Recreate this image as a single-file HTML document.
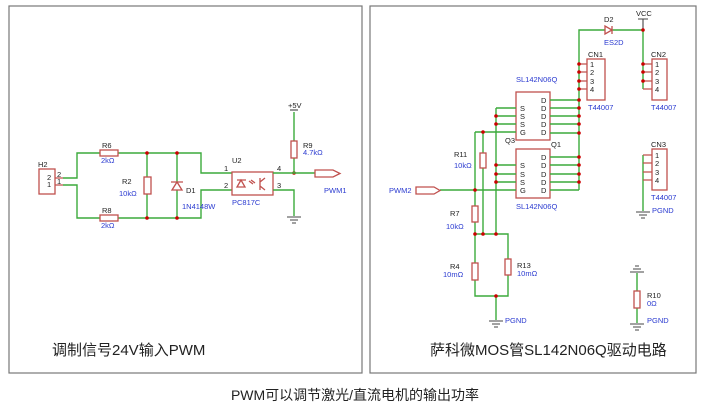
<!DOCTYPE html>
<html><head><meta charset="utf-8"><style>
html,body{margin:0;padding:0;background:#fff;}
svg{display:block;}
.w{stroke:#3caa3c;stroke-width:1.4;fill:none}
.c{stroke:#c0504d;stroke-width:1.3;fill:none}
.r{stroke:#c0504d;stroke-width:1.3;fill:#fff}
.g{stroke:#444;stroke-width:1.1;fill:none}
.t{font-family:"Liberation Sans",sans-serif;font-size:7.5px;fill:#222}
.b{font-family:"Liberation Sans",sans-serif;font-size:7.5px;fill:#2a3ad0}
.big{font-family:"Liberation Sans","Noto Sans CJK SC",sans-serif;font-size:15px;fill:#222}
.cap{font-family:"Liberation Sans","Noto Sans CJK SC",sans-serif;font-size:14px;fill:#222}
</style></head><body>
<svg width="710" height="415" viewBox="0 0 710 415" xmlns="http://www.w3.org/2000/svg">
<rect x="9" y="6" width="353" height="367" fill="none" stroke="#777" stroke-width="1.2"/>
<rect x="370" y="6" width="326" height="367" fill="none" stroke="#777" stroke-width="1.2"/>
<text class="big" x="52" y="355">调制信号24V输入PWM</text>
<text class="big" x="430" y="355">萨科微MOS管SL142N06Q驱动电路</text>
<text class="cap" x="355" y="400" text-anchor="middle">PWM可以调节激光/直流电机的输出功率</text>

<!-- LEFT -->
<rect class="r" x="39" y="169" width="16" height="25"/>
<text class="t" x="38" y="167">H2</text>
<text class="t" x="47" y="180">2</text><text class="t" x="47" y="187">1</text>
<text class="t" x="57" y="177">2</text><text class="t" x="57" y="184">1</text>
<path class="c" d="M55 178H63M55 185H63"/>
<path class="w" d="M63 178H77V153H100M118 153H201V173H232M63 185H77V218H100M118 218H201V190H232"/>
<rect class="r" x="100" y="150" width="18" height="6"/>
<rect class="r" x="100" y="215" width="18" height="6"/>
<text class="t" x="102" y="148">R6</text><text class="b" x="101" y="163">2kΩ</text>
<text class="t" x="102" y="213">R8</text><text class="b" x="101" y="228">2kΩ</text>
<path class="w" d="M147 153V177M147 194V218M177 153V182M177 190V218"/>
<rect class="r" x="144" y="177" width="7" height="17"/>
<text class="t" x="122" y="184">R2</text><text class="b" x="119" y="196">10kΩ</text>
<path class="c" d="M171 182H183M177 182L172 190H182Z"/>
<text class="t" x="186" y="193">D1</text><text class="b" x="182" y="209">1N4148W</text>
<g fill="#c00"><circle cx="147" cy="153" r="1.8"/><circle cx="177" cy="153" r="1.8"/><circle cx="147" cy="218" r="1.8"/><circle cx="177" cy="218" r="1.8"/><circle cx="294" cy="173" r="1.8"/></g>
<rect class="r" x="232" y="172" width="41" height="23"/>
<path class="c" d="M237 180H246M241 180L237 187H245Z M238 187H245 M249 181l4 3M251 180l4 3 M260 178V190M260 182l5-4M260 186l5 4"/>
<text class="t" x="232" y="163">U2</text><text class="b" x="232" y="205">PC817C</text>
<text class="t" x="224" y="171">1</text><text class="t" x="224" y="188">2</text>
<text class="t" x="277" y="171">4</text><text class="t" x="277" y="188">3</text>
<path class="w" d="M273 173H315M273 190H294V216M294 112V141M294 158V173"/>
<rect class="r" x="291" y="141" width="6" height="17"/>
<text class="t" x="303" y="148">R9</text><text class="b" x="303" y="155">4.7kΩ</text>
<text class="t" x="288" y="108">+5V</text><path class="g" d="M290 110H298"/>
<path class="c" d="M315 170H333L340 173.5L333 177H315Z"/>
<text class="b" x="324" y="193">PWM1</text>
<path class="g" d="M287 217H301M290 220H298M292 223H296"/>

<!-- RIGHT -->
<path class="w" d="M579 190V30H605M612 30H643V89M643 155V211"/>
<path class="c" d="M605 26V34L612 30Z M612 26V34"/>
<text class="t" x="604" y="22">D2</text><text class="b" x="604" y="45">ES2D</text>
<text class="t" x="636" y="16">VCC</text><path class="g" d="M638 19H648M643 19V30" stroke="#c0504d"/>
<rect class="r" x="587" y="59" width="18" height="41"/>
<rect class="r" x="652" y="59" width="15" height="41"/>
<rect class="r" x="652" y="149" width="15" height="41"/>
<text class="t" x="588" y="57">CN1</text><text class="b" x="588" y="110">T44007</text>
<text class="t" x="651" y="57">CN2</text><text class="b" x="651" y="110">T44007</text>
<text class="t" x="651" y="147">CN3</text><text class="b" x="651" y="200">T44007</text>
<text class="b" x="652" y="213">PGND</text>
<g class="t">
<text x="590" y="67">1</text><text x="590" y="75">2</text><text x="590" y="84">3</text><text x="590" y="92">4</text>
<text x="655" y="67">1</text><text x="655" y="75">2</text><text x="655" y="84">3</text><text x="655" y="92">4</text>
<text x="655" y="158">1</text><text x="655" y="166">2</text><text x="655" y="175">3</text><text x="655" y="183">4</text>
</g>
<path class="c" d="M579 64H587M579 72H587M579 81H587M579 89H587M643 64H652M643 72H652M643 81H652M643 89H652M643 155H652M643 163H652M643 172H652M643 180H652"/>
<path class="g" d="M636 212H650M639 215H647M641 218H645"/>
<rect class="r" x="516" y="92" width="34" height="48"/>
<rect class="r" x="516" y="149" width="34" height="49"/>
<text class="b" x="516" y="82">SL142N06Q</text><text class="b" x="516" y="209">SL142N06Q</text>
<text class="t" x="505" y="143">Q3</text><text class="t" x="551" y="147">Q1</text>
<g class="t">
<text x="520" y="111">S</text><text x="520" y="119">S</text><text x="520" y="127">S</text><text x="520" y="135">G</text>
<text x="541" y="103">D</text><text x="541" y="111">D</text><text x="541" y="119">D</text><text x="541" y="127">D</text><text x="541" y="135">D</text>
<text x="520" y="168">S</text><text x="520" y="177">S</text><text x="520" y="185">S</text><text x="520" y="193">G</text>
<text x="541" y="160">D</text><text x="541" y="168">D</text><text x="541" y="177">D</text><text x="541" y="185">D</text><text x="541" y="193">D</text>
</g>
<path class="w" d="M550 100H579M550 108H579M550 116H579M550 124H579M550 133H579M550 157H579M550 165H579M550 174H579M550 182H579M550 190H579"/>
<path class="w" d="M496 108H516M496 116H516M496 124H516M475 132H516M496 165H516M496 174H516M496 182H516M440 190H516 M496 108V234M475 132V206M475 222V263M483 132V153M483 168V234M475 234H508V259M508 275V296H475V280M496 296V320"/>
<rect class="r" x="480" y="153" width="6" height="15"/>
<rect class="r" x="472" y="206" width="6" height="16"/>
<rect class="r" x="472" y="263" width="6" height="17"/>
<rect class="r" x="505" y="259" width="6" height="16"/>
<text class="t" x="454" y="157">R11</text><text class="b" x="454" y="168">10kΩ</text>
<text class="t" x="450" y="216">R7</text><text class="b" x="446" y="229">10kΩ</text>
<text class="t" x="450" y="269">R4</text><text class="b" x="443" y="277">10mΩ</text>
<text class="t" x="517" y="268">R13</text><text class="b" x="517" y="276">10mΩ</text>
<path class="c" d="M416 187H434L440 190.5L434 194H416Z"/>
<text class="b" x="389" y="193">PWM2</text>
<path class="g" d="M489 321H503M492 324H500M494 327H498"/>
<text class="b" x="505" y="323">PGND</text>
<path class="w" d="M637 273V291M637 308V323"/>
<rect class="r" x="634" y="291" width="6" height="17"/>
<path class="g" d="M630 272H644M633 269H641M635 266H639M630 324H644M633 327H641M635 330H639"/>
<text class="t" x="647" y="298">R10</text><text class="b" x="647" y="306">0Ω</text>
<text class="b" x="647" y="323">PGND</text>
<g fill="#c00">
<circle cx="579" cy="100" r="1.8"/><circle cx="579" cy="108" r="1.8"/><circle cx="579" cy="116" r="1.8"/><circle cx="579" cy="124" r="1.8"/><circle cx="579" cy="133" r="1.8"/>
<circle cx="579" cy="157" r="1.8"/><circle cx="579" cy="165" r="1.8"/><circle cx="579" cy="174" r="1.8"/><circle cx="579" cy="182" r="1.8"/><circle cx="579" cy="64" r="1.8"/><circle cx="579" cy="72" r="1.8"/><circle cx="579" cy="81" r="1.8"/><circle cx="579" cy="89" r="1.8"/>
<circle cx="643" cy="30" r="1.8"/><circle cx="643" cy="64" r="1.8"/><circle cx="643" cy="72" r="1.8"/><circle cx="643" cy="81" r="1.8"/>
<circle cx="496" cy="116" r="1.8"/><circle cx="496" cy="124" r="1.8"/><circle cx="496" cy="165" r="1.8"/><circle cx="496" cy="174" r="1.8"/><circle cx="496" cy="182" r="1.8"/>
<circle cx="483" cy="132" r="1.8"/><circle cx="475" cy="190" r="1.8"/>
<circle cx="475" cy="234" r="1.8"/><circle cx="483" cy="234" r="1.8"/><circle cx="496" cy="234" r="1.8"/><circle cx="496" cy="296" r="1.8"/>
</g>
</svg>
</body></html>
